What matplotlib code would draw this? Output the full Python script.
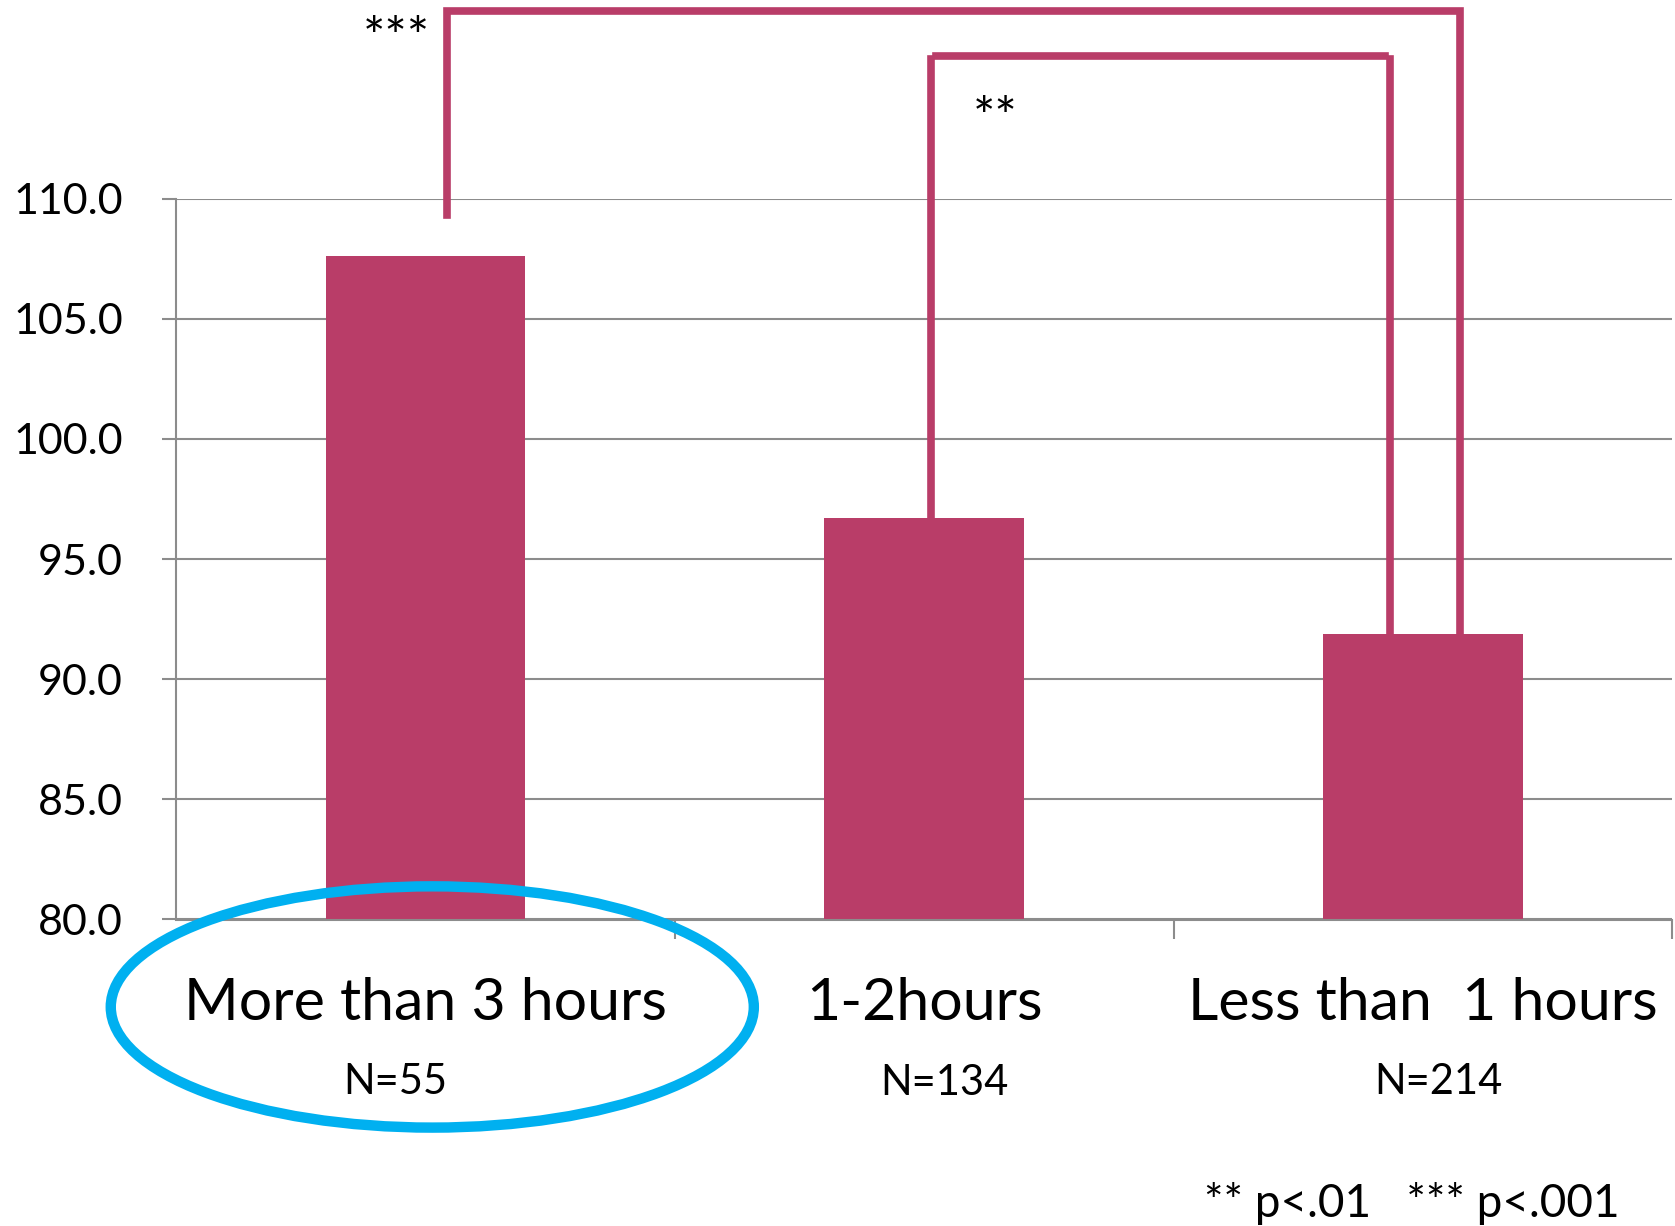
import matplotlib.pyplot as plt
from matplotlib.patches import Ellipse

# mean scores per daily-usage group
categories = ["More than 3 hours", "1-2hours", "Less than  1 hours"]
group_n = ["N=55", "N=134", "N=214"]
means = [107.6, 96.7, 91.9]
yticks = [80.0, 85.0, 90.0, 95.0, 100.0, 105.0, 110.0]

bar_color = "#B93D68"
grid_color = "#8C8C8C"

plt.rcParams["font.family"] = ["Lato", "DejaVu Sans"]

fig = plt.figure(figsize=(16.75, 12.26), dpi=100)
ax = fig.add_axes([0.105, 0.25, 0.8935, 0.588])

x = range(len(categories))
ax.bar(x, means, width=0.4, color=bar_color, zorder=2)

ax.set_xlim(-0.5, 2.5)
ax.set_ylim(80, 110)
ax.set_yticks(yticks)
ax.set_yticklabels([f"{v:.1f}" for v in yticks], fontsize=31)
ax.yaxis.grid(True, color=grid_color, linewidth=1.5, zorder=0)
ax.tick_params(axis="y", length=10, width=1.5, color=grid_color, pad=28)

# category boundaries as tick marks, labels drawn separately
ax.set_xticks([0.5, 1.5, 2.5])
ax.set_xticklabels([])
ax.tick_params(axis="x", length=14, width=1.5, color=grid_color)

for side in ["top", "right"]:
    ax.spines[side].set_visible(False)
for side in ["left", "bottom"]:
    ax.spines[side].set_color(grid_color)
    ax.spines[side].set_linewidth(1.5)

for i, cat in enumerate(categories):
    ax.text(i, 76.5, cat, ha="center", va="center", fontsize=42.5, clip_on=False)
ax.text(-0.06, 73.25, group_n[0], ha="center", va="center", fontsize=30)
ax.text(1.04, 73.2, group_n[1], ha="center", va="center", fontsize=30)
ax.text(2.03, 73.25, group_n[2], ha="center", va="center", fontsize=30)

# significance brackets
lw = 5.5
ax.plot([0.044, 0.044, 2.074, 2.074], [109.3, 117.8, 117.8, 90.0],
        color=bar_color, linewidth=lw, clip_on=False, zorder=3,
        solid_joinstyle="miter")
ax.plot([1.014, 1.014], [95.8, 115.8], color=bar_color, linewidth=lw,
        clip_on=False, zorder=3)
ax.plot([1.024, 1.923], [115.95, 115.95], color=bar_color, linewidth=lw,
        clip_on=False, zorder=3)
ax.plot([1.933, 1.933], [90.0, 115.8], color=bar_color, linewidth=lw,
        clip_on=False, zorder=3)
ax.text(-0.059, 116.6, "***", ha="center", va="center", fontsize=38)
ax.text(1.142, 113.25, "**", ha="center", va="center", fontsize=38)

# highlight the heaviest-use group
ax.add_patch(Ellipse((0.014, 76.36), 1.289, 10.04, fill=False,
                     edgecolor="#00B0F0", linewidth=7.5, clip_on=False,
                     zorder=4))

ax.text(1.978, 68.2, "** p<.01   *** p<.001", ha="center", va="center",
        fontsize=33)

fig.savefig("out.png", dpi=100)
